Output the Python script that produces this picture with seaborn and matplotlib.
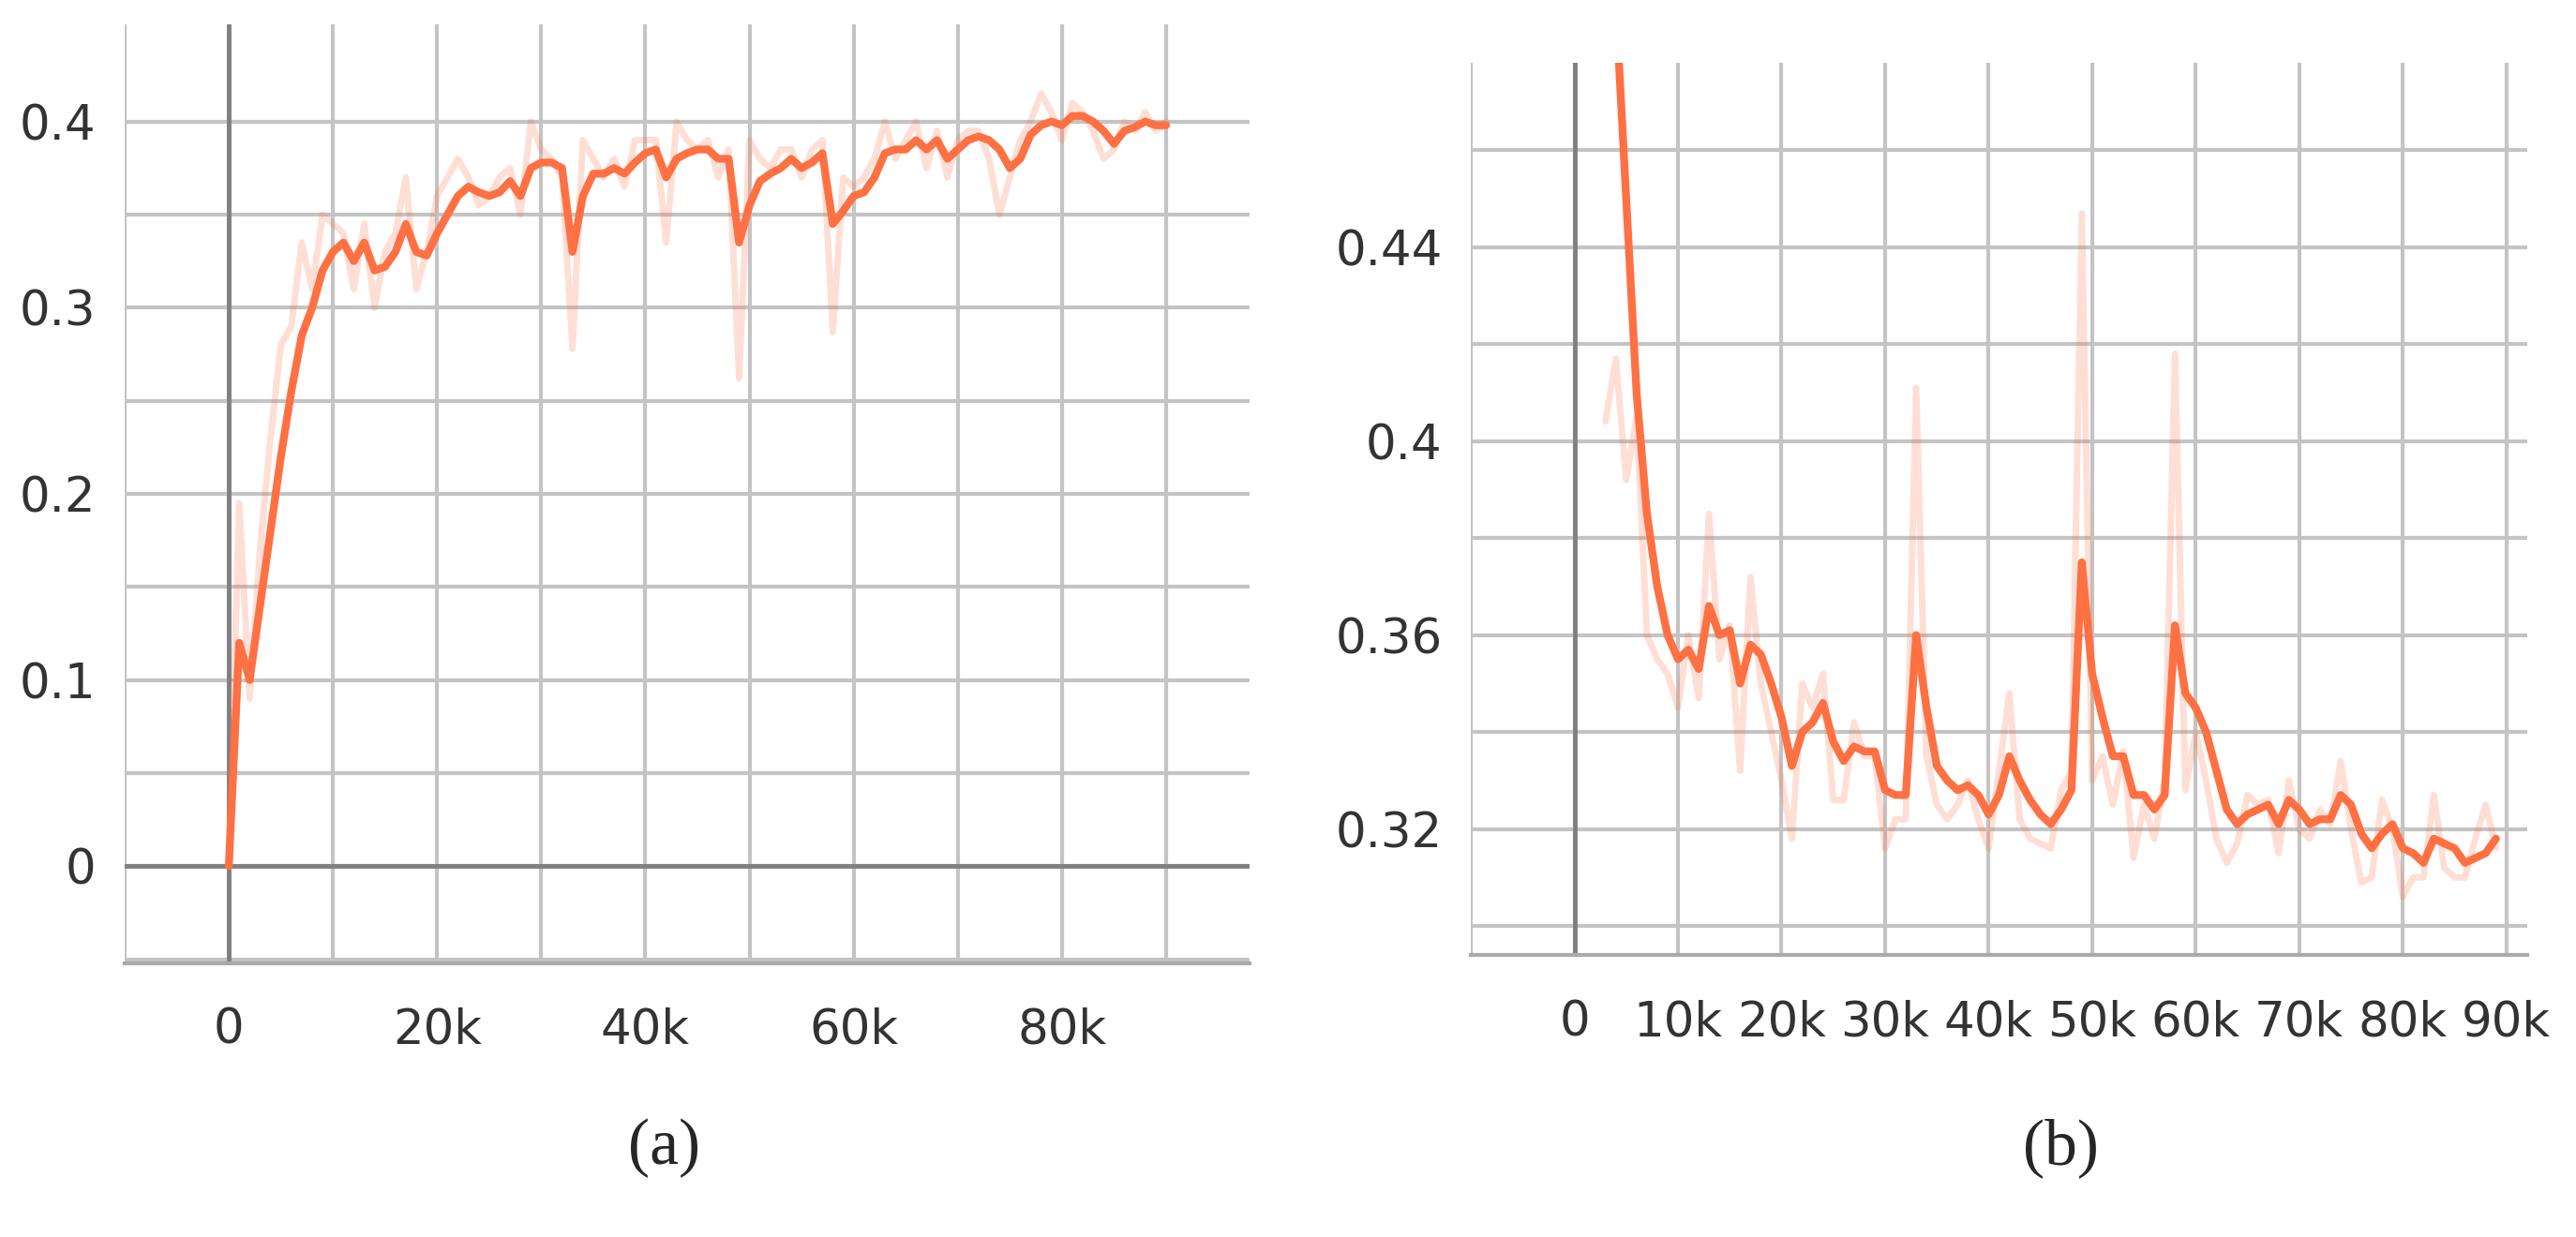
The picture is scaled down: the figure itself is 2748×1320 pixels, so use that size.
import matplotlib
matplotlib.use("Agg")
import matplotlib.pyplot as plt
import seaborn as sns
import pandas as pd

# panel (a): step in thousands, smoothed and raw values
A_STEP = list(range(0, 91))
A_SMOOTH = [0.0, 0.12, 0.10, 0.14, 0.18, 0.22, 0.255, 0.285, 0.30, 0.32,
            0.33, 0.335, 0.325, 0.335, 0.32, 0.322, 0.33, 0.345, 0.33, 0.328,
            0.34, 0.35, 0.36, 0.365, 0.362, 0.36, 0.362, 0.368, 0.36, 0.375,
            0.378, 0.378, 0.375, 0.33, 0.36, 0.372, 0.372, 0.375, 0.372, 0.378,
            0.383, 0.385, 0.37, 0.38, 0.383, 0.385, 0.385, 0.38, 0.38, 0.335,
            0.355, 0.368, 0.372, 0.375, 0.38, 0.375, 0.378, 0.383, 0.345, 0.352,
            0.36, 0.362, 0.37, 0.383, 0.385, 0.385, 0.39, 0.385, 0.39, 0.38,
            0.385, 0.39, 0.392, 0.39, 0.385, 0.375, 0.38, 0.393, 0.398, 0.40,
            0.398, 0.403, 0.403, 0.40, 0.395, 0.388, 0.395, 0.397, 0.40, 0.398,
            0.398]
A_RAW = [0.0, 0.195, 0.09, 0.17, 0.23, 0.28, 0.29, 0.335, 0.31, 0.35,
         0.345, 0.34, 0.31, 0.345, 0.30, 0.33, 0.34, 0.37, 0.31, 0.33,
         0.36, 0.37, 0.38, 0.37, 0.355, 0.36, 0.37, 0.375, 0.35, 0.40,
         0.385, 0.38, 0.37, 0.278, 0.39, 0.38, 0.37, 0.38, 0.365, 0.39,
         0.39, 0.39, 0.335, 0.40, 0.39, 0.385, 0.39, 0.37, 0.385, 0.262,
         0.39, 0.38, 0.375, 0.385, 0.385, 0.37, 0.385, 0.39, 0.287, 0.37,
         0.365, 0.37, 0.38, 0.40, 0.38, 0.39, 0.40, 0.375, 0.395, 0.37,
         0.39, 0.395, 0.395, 0.38, 0.35, 0.37, 0.39, 0.40, 0.415, 0.405,
         0.39, 0.41, 0.405, 0.395, 0.38, 0.385, 0.40, 0.395, 0.405, 0.395,
         0.40]

# panel (b)
B_STEP = list(range(3, 90))
B_SMOOTH = [0.53, 0.49, 0.45, 0.41, 0.385, 0.37, 0.36, 0.355, 0.357, 0.353,
            0.366, 0.36, 0.361, 0.35, 0.358, 0.356, 0.35, 0.343, 0.333, 0.34,
            0.342, 0.346, 0.338, 0.334, 0.337, 0.336, 0.336, 0.328, 0.327, 0.327,
            0.36, 0.345, 0.333, 0.33, 0.328, 0.329, 0.327, 0.323, 0.327, 0.335,
            0.33, 0.326, 0.323, 0.321, 0.324, 0.328, 0.375, 0.352, 0.343, 0.335,
            0.335, 0.327, 0.327, 0.324, 0.327, 0.362, 0.348, 0.345, 0.34, 0.332,
            0.324, 0.321, 0.323, 0.324, 0.325, 0.321, 0.326, 0.324, 0.321, 0.322,
            0.322, 0.327, 0.325, 0.319, 0.316, 0.319, 0.321, 0.316, 0.315, 0.313,
            0.318, 0.317, 0.316, 0.313, 0.314, 0.315, 0.318]
B_RAW = [0.404, 0.417, 0.392, 0.405, 0.36, 0.355, 0.352, 0.345, 0.36, 0.347,
         0.385, 0.355, 0.362, 0.332, 0.372, 0.35, 0.34, 0.33, 0.318, 0.35,
         0.345, 0.352, 0.326, 0.326, 0.342, 0.335, 0.335, 0.316, 0.322, 0.322,
         0.411, 0.335, 0.325, 0.322, 0.325, 0.33, 0.322, 0.316, 0.332, 0.348,
         0.322, 0.318, 0.317, 0.316, 0.328, 0.332, 0.447, 0.33, 0.335, 0.325,
         0.336, 0.314, 0.325, 0.318, 0.33, 0.418, 0.328, 0.34, 0.33, 0.318,
         0.313, 0.317, 0.327, 0.325, 0.326, 0.315, 0.33, 0.32, 0.318, 0.324,
         0.321, 0.334, 0.32, 0.309, 0.31, 0.326, 0.32, 0.306, 0.31, 0.31,
         0.327, 0.312, 0.31, 0.31, 0.318, 0.325, 0.316]

ORANGE = "#ff7043"
GRID = "#c4c4c4"


def k_label(v):
    return "0" if v == 0 else f"{int(v / 1000)}k"


def draw_panel(ax, steps, smooth, raw, xlim, ylim, xticks, yticks, ylabels, xgrid, ygrid, zero_h):
    df = pd.DataFrame({"step": [s * 1000 for s in steps], "smooth": smooth, "raw": raw})
    sns.lineplot(data=df, x="step", y="raw", ax=ax, color=ORANGE, alpha=0.22, linewidth=5)
    sns.lineplot(data=df, x="step", y="smooth", ax=ax, color=ORANGE, linewidth=6)
    ax.set_xlim(*xlim)
    ax.set_ylim(*ylim)
    for g in xgrid:
        ax.axvline(g, color=GRID, lw=3, zorder=0)
    for g in ygrid:
        ax.axhline(g, color=GRID, lw=3, zorder=0)
    ax.axvline(0, color="#808080", lw=3.5, zorder=1)
    if zero_h:
        ax.axhline(0, color="#808080", lw=3.5, zorder=1)
    ax.set_xticks(xticks)
    ax.set_xticklabels([k_label(v) for v in xticks])
    ax.set_yticks(yticks)
    ax.set_yticklabels(ylabels)
    ax.set_xlabel("")
    ax.set_ylabel("")
    for s in ["top", "right", "left"]:
        ax.spines[s].set_visible(False)
    ax.spines["bottom"].set_color("#aaaaaa")
    ax.spines["bottom"].set_linewidth(3)
    ax.tick_params(axis="x", labelsize=37, colors="#aaaaaa", labelcolor="#333333",
                   length=10, width=3, pad=24)
    ax.tick_params(axis="y", labelsize=37, labelcolor="#333333", length=0, pad=22)
    ax.set_facecolor("white")


sns.set_style("white")
fig = plt.figure(figsize=(27.48, 13.2), dpi=100)
ax1 = fig.add_axes([0.0484, 0.2215, 0.4366, 0.7585])
ax2 = fig.add_axes([0.571, 0.228, 0.410, 0.721])

draw_panel(ax1, A_STEP, A_SMOOTH, A_RAW, (-10000, 98000), (-0.052, 0.452),
           [0, 20000, 40000, 60000, 80000], [0, 0.1, 0.2, 0.3, 0.4],
           ["0", "0.1", "0.2", "0.3", "0.4"],
           [i * 10000 for i in range(-1, 10)],
           [-0.05 + 0.05 * i for i in range(0, 10)], True)
draw_panel(ax2, B_STEP, B_SMOOTH, B_RAW, (-10000, 92000), (0.294, 0.478),
           [i * 10000 for i in range(0, 10)], [0.32, 0.36, 0.40, 0.44],
           ["0.32", "0.36", "0.4", "0.44"],
           [i * 10000 for i in range(-1, 10)],
           [0.30 + 0.02 * i for i in range(0, 10)], False)

fig.text(0.258, 0.072, "(a)", ha="center", va="center", fontsize=50, family="Liberation Serif")
fig.text(0.80, 0.072, "(b)", ha="center", va="center", fontsize=50, family="Liberation Serif")

fig.savefig("out.png", dpi=100)
